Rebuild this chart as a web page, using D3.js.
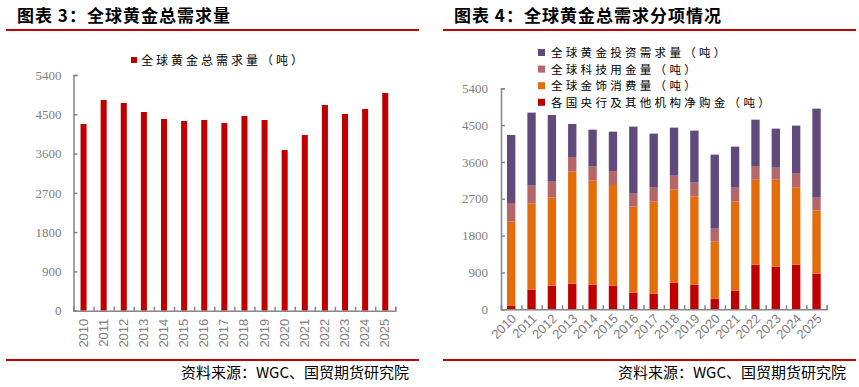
<!DOCTYPE html>
<html>
<head>
<meta charset="utf-8">
<script src="https://cdn.jsdelivr.net/npm/d3@7"></script>
<style>
  body { margin: 0; background: #fff; }
  svg { display: block; }
</style>
</head>
<body>
<svg id="chart" width="859" height="387"></svg>
<script>
const years = ['2010','2011','2012','2013','2014','2015','2016','2017','2018','2019','2020','2021','2022','2023','2024','2025'];
const yTicks = [0, 900, 1800, 2700, 3600, 4500, 5400];

// left chart: total demand (t)
const totalDemand = [4277, 4827, 4758, 4552, 4392, 4346, 4369, 4300, 4461, 4369, 3682, 4025, 4713, 4506, 4621, 4988];

// right chart: breakdown (t), stacked bottom -> top
const centralBanks = [90, 481, 578, 627, 603, 578, 407, 383, 652, 603, 261, 456, 1091, 1043, 1091, 872];
const jewellery = [2052, 2101, 2151, 2737, 2541, 2460, 2102, 2248, 2272, 2150, 1392, 2175, 2077, 2125, 1882, 1539];
const technology = [456, 440, 390, 358, 342, 342, 317, 342, 342, 342, 318, 342, 318, 294, 342, 318];
const investment = [1662, 1784, 1629, 807, 904, 961, 1637, 1319, 1173, 1271, 1808, 1002, 1148, 953, 1173, 2174];

const seriesKeys = ['cb', 'jew', 'tech', 'inv'];
const seriesNames = {
    inv: '全球黄金投资需求量（吨）',
    tech: '全球科技用金量（吨）',
    jew: '全球金饰消费量（吨）',
    cb: '各国央行及其他机构净购金（吨）'
};
const seriesColors = { inv: '#604A7B', tech: '#B46766', jew: '#E46C0A', cb: '#C00000' };

const svg = d3.select('#chart');
const cjk = '"Noto Sans CJK SC", sans-serif';
const axisGrey = '#868686';
const labelGrey = '#7f7f7f';

function frame(x0, x1, title) {
    svg.append('text')
        .attr('x', x0 + 11).attr('y', 22)
        .attr('font-family', cjk).attr('font-size', '17px').attr('font-weight', '700')
        .attr('letter-spacing', '1px').attr('fill', '#000')
        .text(title);
    svg.append('rect').attr('x', x0).attr('y', 29).attr('width', x1 - x0).attr('height', 2).attr('fill', '#C00000');
    svg.append('rect').attr('x', x0).attr('y', 359).attr('width', x1 - x0).attr('height', 2).attr('fill', '#C00000');
    svg.append('text')
        .attr('x', x1 - 10).attr('y', 378)
        .attr('text-anchor', 'end')
        .attr('font-family', cjk).attr('font-size', '15px').attr('fill', '#000')
        .text('资料来源：WGC、国贸期货研究院');
}

function axes(g, x, y, width, height, rotateLabels, labelPad) {
    // category boundary ticks
    const xb = d3.scaleLinear().domain([0, years.length]).range([0, width]);
    const xAxis = g.append('g').attr('transform', `translate(0,${height})`)
        .call(d3.axisBottom(xb).tickValues(d3.range(years.length + 1)).tickSize(-4).tickFormat(''));
    xAxis.selectAll('path, line').attr('stroke', axisGrey).attr('stroke-width', 1.5);

    const yAxis = g.append('g')
        .call(d3.axisLeft(y).tickValues(yTicks).tickSize(-4).tickPadding(labelPad).tickFormat(d3.format('d')));
    yAxis.selectAll('path, line').attr('stroke', axisGrey).attr('stroke-width', 1.5);
    yAxis.selectAll('text')
        .attr('font-family', '"Liberation Serif", serif').attr('font-size', '13px').attr('fill', labelGrey);

    const lbl = g.append('g').attr('font-family', '"Liberation Sans", Arial, sans-serif')
        .attr('font-size', '13px').attr('fill', labelGrey);
    years.forEach(yr => {
        const cx = x(yr) + x.bandwidth() / 2;
        if (rotateLabels === 90) {
            lbl.append('text')
                .attr('transform', `translate(${cx + 4},${height + 8}) rotate(-90)`)
                .attr('text-anchor', 'end')
                .text(yr);
        } else {
            lbl.append('text')
                .attr('transform', `translate(${cx + 6},${height + 10}) rotate(-45)`)
                .attr('text-anchor', 'end')
                .text(yr);
        }
    });
}

// ---------- Left chart ----------
frame(6, 419, '图表 3：全球黄金总需求量');
{
    const m = { left: 73.5, top: 75 };
    const width = 395.3 - m.left, height = 310.7 - m.top;
    const g = svg.append('g').attr('transform', `translate(${m.left},${m.top})`);
    const x = d3.scaleBand().domain(years).range([0, width]).paddingInner(0.7).paddingOuter(0.35);
    const y = d3.scaleLinear().domain([0, 5400]).range([height, 0]);

    g.selectAll('.bar')
        .data(years)
        .enter()
        .append('rect')
        .attr('x', d => x(d))
        .attr('y', (d, i) => y(totalDemand[i]))
        .attr('width', x.bandwidth())
        .attr('height', (d, i) => height - y(totalDemand[i]))
        .attr('fill', '#C00000');

    axes(g, x, y, width, height, 90, 12);

    // Legend
    svg.append('rect').attr('x', 131).attr('y', 57).attr('width', 6).attr('height', 6).attr('fill', '#C00000');
    svg.append('text').attr('x', 141).attr('y', 64.5)
        .attr('font-family', cjk).attr('font-size', '12px').attr('letter-spacing', '3px').attr('fill', '#000')
        .text('全球黄金总需求量（吨）');
}

// ---------- Right chart ----------
frame(443, 856, '图表 4：全球黄金总需求分项情况');
{
    const m = { left: 501, top: 88.3 };
    const width = 826.7 - m.left, height = 309.3 - m.top;
    const g = svg.append('g').attr('transform', `translate(${m.left},${m.top})`);
    const x = d3.scaleBand().domain(years).range([0, width]).paddingInner(0.59).paddingOuter(0.295);
    const y = d3.scaleLinear().domain([0, 5400]).range([height, 0]);

    const table = years.map((yr, i) => ({
        year: yr, cb: centralBanks[i], jew: jewellery[i], tech: technology[i], inv: investment[i]
    }));
    const stacked = d3.stack().keys(seriesKeys)(table);

    g.selectAll('.layer')
        .data(stacked)
        .enter()
        .append('g')
        .attr('fill', d => seriesColors[d.key])
        .selectAll('rect')
        .data(d => d)
        .enter()
        .append('rect')
        .attr('x', d => x(d.data.year))
        .attr('y', d => y(d[1]))
        .attr('width', x.bandwidth())
        .attr('height', d => y(d[0]) - y(d[1]));

    axes(g, x, y, width, height, 45, 13);

    // Legend
    const legendOrder = ['inv', 'tech', 'jew', 'cb'];
    legendOrder.forEach((k, i) => {
        const ly = 53 + i * 16.6;
        svg.append('rect').attr('x', 538).attr('y', ly - 4).attr('width', 7).attr('height', 7).attr('fill', seriesColors[k]);
        svg.append('text').attr('x', 551).attr('y', ly + 4)
            .attr('font-family', cjk).attr('font-size', '11.5px').attr('letter-spacing', '3.3px').attr('fill', '#000')
            .text(seriesNames[k]);
    });
}
</script>
</body>
</html>
